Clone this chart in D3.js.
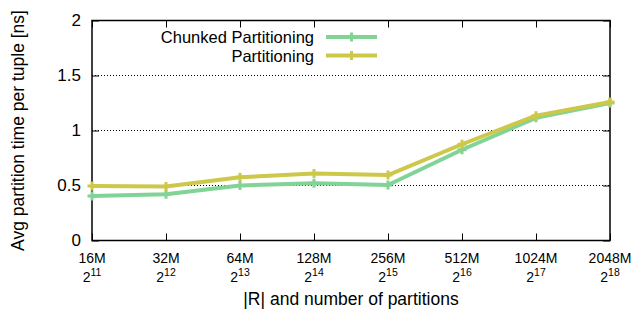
<!DOCTYPE html>
<html>
<head>
<meta charset="utf-8">
<script src="https://cdn.jsdelivr.net/npm/d3@7"></script>
<style>
    body { margin: 0; background: #fff; }
    text { font-family: "Liberation Sans", Arial, Helvetica, sans-serif; fill: #000; }
</style>
</head>
<body>
<svg id="chart" width="633" height="314"></svg>
<script>
// data
const sizes = ["16M", "32M", "64M", "128M", "256M", "512M", "1024M", "2048M"];
const exponents = ["11", "12", "13", "14", "15", "16", "17", "18"];
const chunked = [0.405, 0.42, 0.50, 0.52, 0.505, 0.825, 1.115, 1.25];
const partitioning = [0.495, 0.49, 0.575, 0.61, 0.595, 0.875, 1.135, 1.26];
const yTicks = [0, 0.5, 1, 1.5, 2];
const seriesNames = ["Chunked Partitioning", "Partitioning"];
const colors = ["#82d396", "#cdc84a"];

const width = 633, height = 314;
const margin = { top: 20.5, right: 23, bottom: 73.5, left: 92 };

const svg = d3.select("#chart");

const xScale = d3.scalePoint()
    .domain(sizes)
    .range([margin.left, width - margin.right]);

const yScale = d3.scaleLinear()
    .domain([0, 2])
    .range([height - margin.bottom, margin.top]);

// dotted grid
svg.append("g")
    .selectAll("line")
    .data(yTicks.filter(d => d > 0 && d < 2))
    .join("line")
    .attr("x1", margin.left)
    .attr("x2", width - margin.right)
    .attr("y1", d => yScale(d))
    .attr("y2", d => yScale(d))
    .attr("stroke", "#000")
    .attr("stroke-width", 1)
    .attr("stroke-dasharray", "1,2");

// axes, gnuplot style ticks pointing inward
const yAxis = d3.axisLeft(yScale)
    .tickValues(yTicks)
    .tickFormat(d => String(d))
    .tickSizeInner(-7).tickSizeOuter(0).tickPadding(11);
svg.append("g")
    .attr("transform", `translate(${margin.left},0)`)
    .call(yAxis)
    .call(g => g.select(".domain").remove())
    .call(g => g.selectAll("text").attr("font-size", 17));

const yAxisRight = d3.axisRight(yScale).tickValues(yTicks).tickSizeInner(-7).tickSizeOuter(0).tickFormat("");
svg.append("g")
    .attr("transform", `translate(${width - margin.right},0)`)
    .call(yAxisRight)
    .call(g => g.select(".domain").remove());

const xAxisTop = d3.axisTop(xScale).tickSizeInner(-7).tickSizeOuter(0).tickFormat("");
svg.append("g")
    .attr("transform", `translate(0,${margin.top})`)
    .call(xAxisTop)
    .call(g => g.select(".domain").remove());

const xAxis = d3.axisBottom(xScale).tickSizeInner(-7).tickSizeOuter(0).tickFormat("");
svg.append("g")
    .attr("transform", `translate(0,${height - margin.bottom})`)
    .call(xAxis)
    .call(g => g.select(".domain").remove());

svg.selectAll(".tick line").attr("stroke", "#000").attr("stroke-width", 1);

// two line tick labels: size and 2^k
const xLabels = svg.append("g")
    .selectAll("g")
    .data(sizes)
    .join("g")
    .attr("transform", d => `translate(${xScale(d)},0)`);

xLabels.append("text")
    .attr("y", 263)
    .attr("text-anchor", "middle")
    .attr("font-size", 14)
    .text(d => d);

const pow = xLabels.append("text")
    .attr("y", 282)
    .attr("text-anchor", "middle")
    .attr("font-size", 14);
pow.append("tspan").text("2");
pow.append("tspan")
    .attr("dy", -6)
    .attr("font-size", 10.5)
    .text((_, i) => exponents[i]);

// frame
svg.append("rect")
    .attr("x", margin.left)
    .attr("y", margin.top)
    .attr("width", width - margin.left - margin.right)
    .attr("height", height - margin.top - margin.bottom)
    .attr("fill", "none")
    .attr("stroke", "#000")
    .attr("stroke-width", 1.5);

// series
const line = d3.line()
    .x((_, i) => xScale(sizes[i]))
    .y(d => yScale(d));

function drawMarker(g, x, y, color) {
    g.append("path")
        .attr("d", `M${x - 4.5},${y}H${x + 4.5}M${x},${y - 4.5}V${y + 4.5}`)
        .attr("stroke", color)
        .attr("stroke-width", 3);
}

[chunked, partitioning].forEach((values, s) => {
    const g = svg.append("g");
    g.append("path")
        .datum(values)
        .attr("d", line)
        .attr("fill", "none")
        .attr("stroke", colors[s])
        .attr("stroke-width", 4)
        .attr("stroke-linejoin", "round");
    values.forEach((v, i) => drawMarker(g, xScale(sizes[i]), yScale(v), colors[s]));
});

// legend
const legend = svg.append("g");
seriesNames.forEach((name, s) => {
    const ly = 37 + s * 18.5;
    legend.append("text")
        .attr("x", 314)
        .attr("y", ly + 6)
        .attr("text-anchor", "end")
        .attr("font-size", 16.5)
        .text(name);
    legend.append("line")
        .attr("x1", 326)
        .attr("x2", 377)
        .attr("y1", ly)
        .attr("y2", ly)
        .attr("stroke", colors[s])
        .attr("stroke-width", 4);
    drawMarker(legend, 351.5, ly, colors[s]);
});

// axis titles
svg.append("text")
    .attr("x", (margin.left + width - margin.right) / 2)
    .attr("y", 305)
    .attr("text-anchor", "middle")
    .attr("font-size", 17.5)
    .text("|R| and number of partitions");

svg.append("text")
    .attr("transform", `translate(24,${(margin.top + height - margin.bottom) / 2}) rotate(-90)`)
    .attr("text-anchor", "middle")
    .attr("font-size", 17.5)
    .text("Avg partition time per tuple [ns]");
</script>
</body>
</html>
